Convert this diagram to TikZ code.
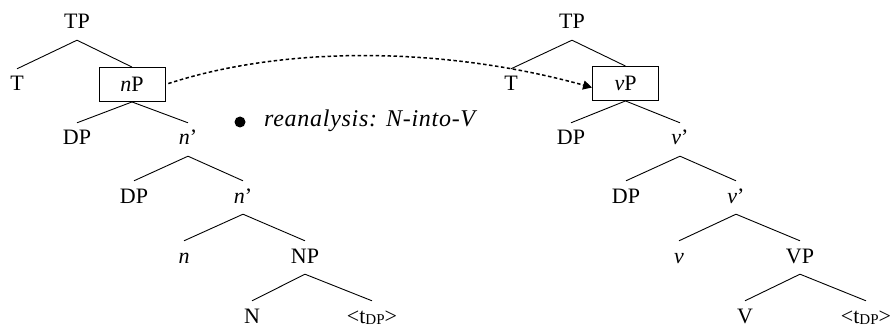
\documentclass[tikz,border=0pt]{standalone}
\usepackage{fontspec}
\setmainfont{Liberation Serif}
\newfontfamily\notefont[LetterSpace=3]{Liberation Serif}
\usetikzlibrary{arrows.meta}
\tikzset{
  lab/.style={font=\fontsize{22}{22}\selectfont, inner sep=0pt, text height=22pt, text depth=11pt, anchor=base},
  boxnode/.style={draw, line width=0.9pt, font=\fontsize{22}{22}\selectfont, inner sep=0pt, minimum width=66pt, minimum height=34pt, text height=15pt, text depth=0pt},
  edge/.style={line width=0.9pt},
  movearrow/.style={line width=1.5pt, dash pattern=on 3.5pt off 2.5pt, -{Triangle[length=9pt,width=9pt]}, shorten <=3pt},
}
\newcommand{\trace}{<t\raisebox{-1.5pt}{\fontsize{15}{15}\selectfont DP}>}
\begin{document}
\begin{tikzpicture}[x=1pt,y=-1pt]
\useasboundingbox (0,0) rectangle (894,326);
% left tree
\node[lab] (tpA) at (77,29) {TP};
\node[lab] (tA) at (17,91) {T};
\node[boxnode] (nP) at (132,84.5) {\textit{n}P};
\node[lab] (dpA) at (77,145) {DP};
\node[lab] (nbA) at (188,145) {\textit{n}’};
\node[lab] (dpB) at (134,203) {DP};
\node[lab] (nbB) at (243,203) {\textit{n}’};
\node[lab] (nA) at (184,263) {\textit{n}};
\node[lab] (NP) at (305,263) {NP};
\node[lab] (NA) at (252,323) {N};
\node[lab] (trA) at (372,323) {\trace};
\draw[edge] (tpA.south) -- (tA.north);
\draw[edge] (tpA.south) -- (nP.north);
\draw[edge] (nP.south) -- (dpA.north);
\draw[edge] (nP.south) -- (nbA.north);
\draw[edge] (nbA.south) -- (dpB.north);
\draw[edge] (nbA.south) -- (nbB.north);
\draw[edge] (nbB.south) -- (nA.north);
\draw[edge] (nbB.south) -- (NP.north);
\draw[edge] (NP.south) -- (NA.north);
\draw[edge] (NP.south) -- (trA.north);
% right tree
\node[lab] (tpB) at (572,29) {TP};
\node[lab] (tB) at (511,91) {T};
\node[boxnode] (vP) at (625.5,83.5) {\textit{v}P};
\node[lab] (dpC) at (571,145) {DP};
\node[lab] (vbA) at (680,145) {\textit{v}’};
\node[lab] (dpD) at (626,203) {DP};
\node[lab] (vbB) at (736,203) {\textit{v}’};
\node[lab] (vA) at (679,263) {\textit{v}};
\node[lab] (VP) at (800,263) {VP};
\node[lab] (VA) at (745,323) {V};
\node[lab] (trB) at (866,323) {\trace};
\draw[edge] (tpB.south) -- (tB.north);
\draw[edge] (tpB.south) -- (vP.north);
\draw[edge] (vP.south) -- (dpC.north);
\draw[edge] (vP.south) -- (vbA.north);
\draw[edge] (vbA.south) -- (dpD.north);
\draw[edge] (vbA.south) -- (vbB.north);
\draw[edge] (vbB.south) -- (vA.north);
\draw[edge] (vbB.south) -- (VP.north);
\draw[edge] (VP.south) -- (VA.north);
\draw[edge] (VP.south) -- (trB.north);
% note
\node[circle, fill, inner sep=0pt, minimum size=11pt] (bullet) at (240,122) {};
\node[font=\notefont\itshape\fontsize{24}{24}\selectfont, inner sep=0pt, anchor=base west] (note) at (264,127) {reanalysis: N-into-V};
% movement arrow
\draw[movearrow] (nP.east) .. controls (290,44) and (450,48) .. ([yshift=-4pt]vP.west);
\end{tikzpicture}
\end{document}
